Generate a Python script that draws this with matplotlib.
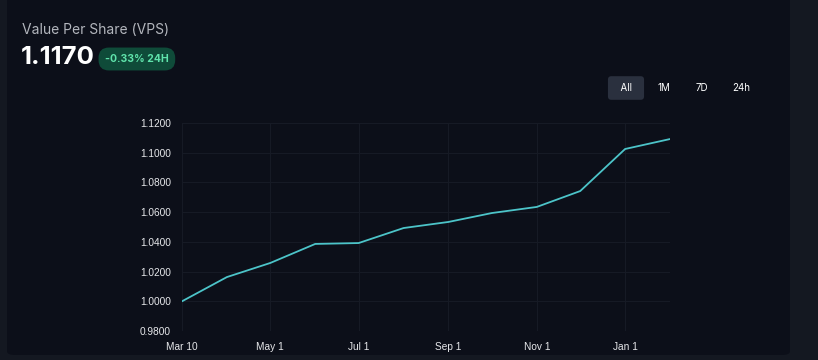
import matplotlib.pyplot as plt
import matplotlib.dates as mdates
from matplotlib.patches import FancyBboxPatch
import pandas as pd

dates = pd.to_datetime(["2023-03-01", "2023-04-01", "2023-05-01", "2023-06-01",
                        "2023-07-01", "2023-08-01", "2023-09-01", "2023-10-01",
                        "2023-11-01", "2023-12-01", "2024-01-01", "2024-02-01"])
vps = [1.0000, 1.0163, 1.0258, 1.0386, 1.0392, 1.0493,
       1.0534, 1.0594, 1.0635, 1.0742, 1.1025, 1.1092]

tick_dates = pd.to_datetime(["2023-03-01", "2023-05-01", "2023-07-01",
                             "2023-09-01", "2023-11-01", "2024-01-01"])
tick_labels = ["Mar 10", "May 1", "Jul 1", "Sep 1", "Nov 1", "Jan 1"]
y_ticks = [0.98, 1.00, 1.02, 1.04, 1.06, 1.08, 1.10, 1.12]
ranges = ["All", "1M", "7D", "24h"]

W, H = 818, 360
outer = "#141821"
panel = "#0c0f19"

fig = plt.figure(figsize=(W / 100, H / 100), dpi=100)
fig.patch.set_facecolor(outer)

# dark card behind everything
card = FancyBboxPatch((7 / W, 5 / H), 783 / W, 1.2, boxstyle="round,pad=0,rounding_size=0.01",
                      transform=fig.transFigure, facecolor=panel, edgecolor="none", zorder=-10)
fig.patches.append(card)

ax = fig.add_axes([182 / W, 1 - 331 / H, 488 / W, 208 / H])
ax.set_facecolor("none")
ax.plot(dates, vps, color="#4cc4c9", lw=1.3, solid_capstyle="round")

ax.set_xlim(dates[0], dates[-1])
ax.set_ylim(0.98, 1.12)
ax.set_yticks(y_ticks)
ax.set_yticklabels([f"{v:.4f}" for v in y_ticks])
ax.set_xticks(mdates.date2num(tick_dates))
ax.set_xticklabels(tick_labels)

ax.grid(True, color="#161a25", lw=0.8)
ax.set_axisbelow(True)
for s in ax.spines.values():
    s.set_visible(False)
ax.tick_params(length=0, colors="#e6e7ea", labelsize=7.3)
ax.tick_params(axis="y", pad=8)
ax.tick_params(axis="x", pad=8)
for lab in ax.get_xticklabels() + ax.get_yticklabels():
    lab.set_family("Liberation Sans")

# header
fig.text(22 / W, 1 - 30 / H, "Value Per Share (VPS)", color="#b3b6bd", fontsize=10,
         family="Inter", va="center")
fig.text(21 / W, 1 - 58 / H, "1.1170", color="#ffffff", fontsize=18.5, weight="bold",
         family="Inter", va="center")
fig.text(105 / W, 1 - 59 / H, "-0.33% 24H", color="#5fe3ab", fontsize=7.5, weight="bold",
         family="Inter", va="center",
         bbox=dict(boxstyle="round,pad=0.62,rounding_size=1.0", fc="#0f4b39", ec="none"))

# range buttons
xs = [626, 664, 702, 741]
for name, x in zip(ranges, xs):
    box = None
    if name == "All":
        box = dict(boxstyle="round,pad=0.7,rounding_size=0.35", fc="#2a303e", ec="none")
    t = "  All  " if name == "All" else name
    fig.text(x / W, 1 - 88 / H, t, color="#ffffff", fontsize=7, family="Inter",
             ha="center", va="center", bbox=box)

fig.savefig("out.png", dpi=100, facecolor=outer)
